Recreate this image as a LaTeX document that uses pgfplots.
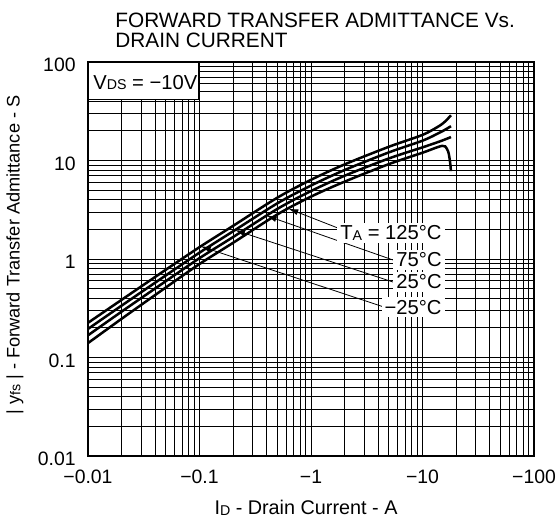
\documentclass[border=0pt]{standalone}
\usepackage{fontspec}
\setmainfont{Liberation Sans}
\usepackage{pgfplots}
\pgfplotsset{compat=1.18}
\usetikzlibrary{arrows.meta}

% small subscript letters, as in the datasheet
\newcommand{\sub}[1]{\raisebox{-0.4pt}{\fontsize{7.1}{8}\selectfont #1}}

\begin{document}
\fontsize{10.1}{12}\selectfont
\begin{tikzpicture}
\useasboundingbox (-44pt,-32pt) rectangle (234.5pt,228pt);

% title
\node[anchor=base west, inner sep=0pt, font=\fontsize{10.4}{12}\selectfont]
  at (13.5pt,214pt) {FORWARD TRANSFER ADMITTANCE Vs.};
\node[anchor=base west, inner sep=0pt, font=\fontsize{10.4}{12}\selectfont]
  at (13.5pt,204pt) {DRAIN CURRENT};

\begin{axis}[
    at={(0,0)}, anchor=south west,
    scale only axis,
    width=223pt, height=197pt,
    xmode=log, ymode=log,
    xmin=0.01, xmax=100,
    ymin=0.01, ymax=100,
    xtick={0.01,0.1,1,10,100},
    xticklabels={−0.01,−0.1,−1,−10,−100},
    ytick={0.01,0.1,1,10,100},
    yticklabels={0.01,0.1,1,10,100},
    minor xtick={0.02,0.03,0.04,0.05,0.06,0.07,0.08,0.09,
                 0.2,0.3,0.4,0.5,0.6,0.7,0.8,0.9,
                 2,3,4,5,6,7,8,9,20,30,40,50,60,70,80,90},
    minor ytick={0.02,0.03,0.04,0.05,0.06,0.07,0.08,0.09,
                 0.2,0.3,0.4,0.5,0.6,0.7,0.8,0.9,
                 2,3,4,5,6,7,8,9,20,30,40,50,60,70,80,90},
    grid=both,
    major grid style={black, line width=0.45pt},
    minor grid style={black, line width=0.45pt},
    major tick length=0pt, minor tick length=0pt,
    axis line style={draw=none},
    tick label style={font=\fontsize{9.7}{11}\selectfont},
    xticklabel style={anchor=center, yshift=-10.5pt},
    yticklabel style={anchor=east, inner sep=0pt, xshift=-6pt, yshift=-1.5pt},
    xlabel={I\sub{D} - Drain Current - A},
    ylabel={| y\sub{fs} | - Forward Transfer Admittance - S},
    xlabel style={at={(axis description cs:0.4888,-0.132)}, anchor=center,
                  font=\fontsize{9.9}{11}\selectfont},
    ylabel style={at={(axis description cs:-0.1637,0.51)}, anchor=center,
                  font=\fontsize{9.1}{11}\selectfont},
    clip=false,
]

% -25 C
\addplot[black, line width=1.25pt, smooth] coordinates {(0.01,0.225) (0.02,0.385)
  (0.05,0.78) (0.1,1.32) (0.2,2.17) (0.5,4.2) (1,6.37) (2,9.13) (5,13.8)
  (10,18.2) (14,22.3) (16,25.0) (18,28.8)};
% 25 C
\addplot[black, line width=1.25pt, smooth] coordinates {(0.01,0.195) (0.02,0.336)
  (0.05,0.683) (0.1,1.16) (0.2,1.91) (0.5,3.68) (1,5.57) (2,8.0) (5,12.1)
  (10,15.9) (14,19.0) (16,20.6) (18,22.3)};
% 75 C
\addplot[black, line width=1.25pt, smooth] coordinates {(0.01,0.168) (0.02,0.292)
  (0.05,0.597) (0.1,1.02) (0.2,1.67) (0.5,3.23) (1,4.9) (2,7.0) (5,10.5)
  (10,13.6) (14,15.5) (16,16.4) (18,17.3)};
% 125 C
\addplot[black, line width=1.25pt, smooth] coordinates {(0.01,0.14) (0.02,0.247)
  (0.05,0.515) (0.1,0.89) (0.2,1.46) (0.5,2.84) (1,4.3) (2,6.1) (5,9.2)
  (10,12.0) (13,13.4) (15,14.1) (16,13.9) (17,12.3) (17.6,10.0) (18,7.8)};

% VDS box
\node[draw, fill=white, line width=0.6pt, anchor=north west, inner sep=0pt,
      minimum width=55pt, minimum height=18.5pt] at (rel axis cs:0,1) {};
\node[anchor=base west, inner sep=0pt] at ([xshift=2.5pt,yshift=-13.5pt]rel axis cs:0,1)
  {V\sub{DS} = −10V};

% arrows to the curves
\draw[line width=0.4pt, -{Latex[length=5pt,width=3pt]}]
  (rel axis cs:0.5717,0.5736) -- (axis cs:0.626,3.25);
\draw[line width=0.4pt, -{Latex[length=5pt,width=3pt]}]
  (rel axis cs:0.6839,0.4975) -- (axis cs:0.40,2.75);
\draw[line width=0.4pt, -{Latex[length=5pt,width=3pt]}]
  (rel axis cs:0.6839,0.4416) -- (axis cs:0.208,1.965);
\draw[line width=0.4pt, -{Latex[length=5pt,width=3pt]}]
  (rel axis cs:0.6704,0.3756) -- (axis cs:0.1025,1.345);

% temperature labels
\node[anchor=east, fill=white, inner sep=1.5pt] at (rel axis cs:0.8004,0.566) {T\sub{A} = 125°C};
\node[anchor=east, fill=white, inner sep=1.5pt] at (rel axis cs:0.8004,0.4975) {75°C};
\node[anchor=east, fill=white, inner sep=1.5pt] at (rel axis cs:0.8004,0.4416) {25°C};
\node[anchor=east, fill=white, inner sep=1.5pt] at (rel axis cs:0.8004,0.378) {−25°C};

% frame
\draw[line width=1.3pt] (rel axis cs:0,0) rectangle (rel axis cs:1,1);
\end{axis}
\end{tikzpicture}
\end{document}
